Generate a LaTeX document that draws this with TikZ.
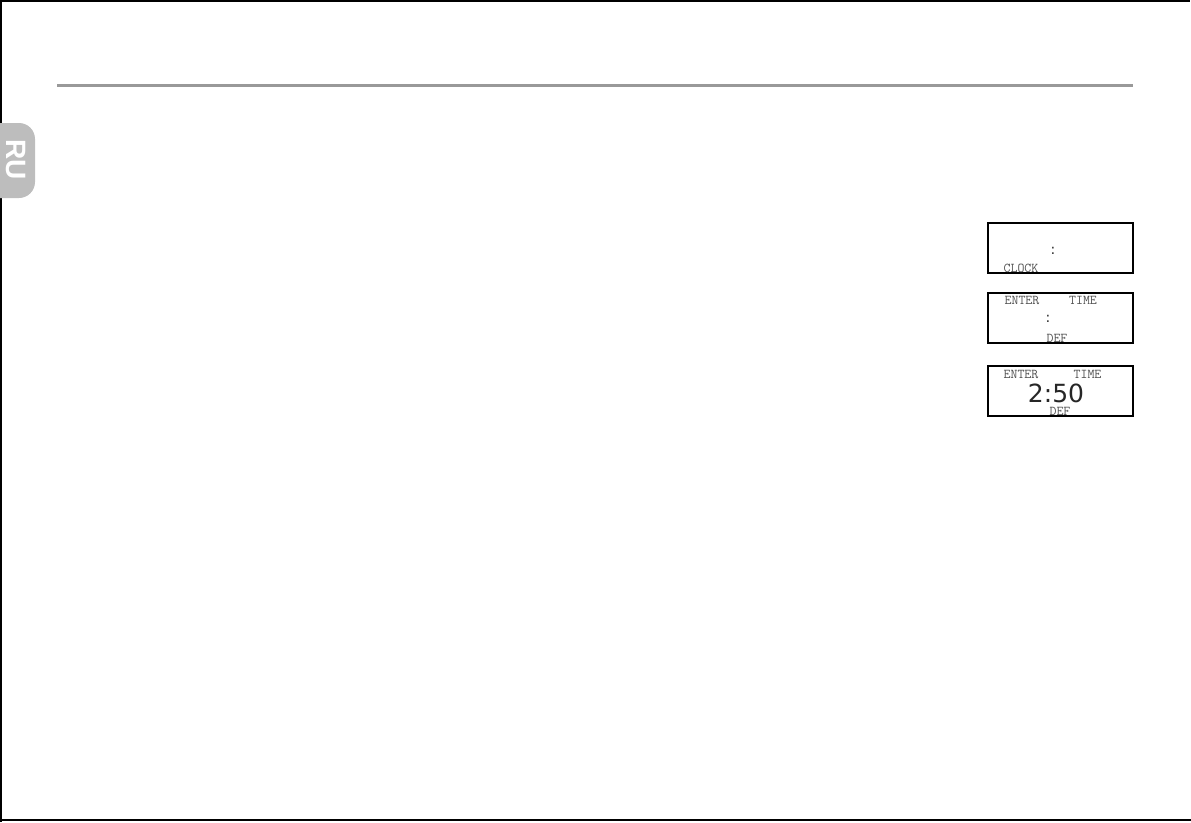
\documentclass[tikz,border=0pt]{standalone}
\usepackage{fontspec}
\setmainfont{Liberation Sans}
\newfontfamily\lcdbig{DejaVu Sans}
\definecolor{rulegray}{HTML}{999999}
\definecolor{tabgray}{HTML}{BDBDBD}
\definecolor{lcdtext}{HTML}{505050}
\begin{document}
\begin{tikzpicture}[x=1pt,y=-1pt,
  lcdbox/.style={draw=black,line width=1.5pt,minimum width=145pt,minimum height=50pt,inner sep=0pt},
  lcdlabel/.style={inner sep=0pt,text=lcdtext,font=\ttfamily\fontsize{13.5}{13.5}\selectfont},
  lcdcolon/.style={inner sep=0pt,text=black!85,font=\lcdbig\fontsize{14}{14}\selectfont},
  lcdbigtext/.style={inner sep=0pt,text=black!85,font=\lcdbig\fontsize{25}{25}\selectfont}]
\useasboundingbox (0,0) rectangle (1191,822);
% page frame
\draw[line width=1.6pt] (0.8,822) -- (0.8,1) -- (1190,1);
\draw[line width=1.6pt] (0,820.2) -- (1191,820.2);
% header rule
\draw[rulegray,line width=3pt] (57,85) -- (1133,85);
% RU tab
\fill[tabgray,rounded corners=16pt] (-30,123) rectangle (35,198);
\node[inner sep=0pt,text=white,rotate=-90,font=\bfseries\fontsize{28}{28}\selectfont] (ru) at (15.5,160) {RU};
% display 1
\node[lcdbox,line width=2.2pt] (d1) at (1060.5,248) {};
\node[lcdcolon] (d1c) at (1053,250.5) {:};
\node[lcdlabel] (d1l) at (1021,268) {CLOCK};
% display 2
\node[lcdbox] (d2) at (1060.5,318) {};
\node[lcdlabel] (d2a) at (1022,300.5) {ENTER};
\node[lcdlabel] (d2b) at (1083,300.5) {TIME};
\node[lcdcolon] (d2c) at (1048,318.5) {:};
\node[lcdlabel] (d2d) at (1057,338) {DEF};
% display 3
\node[lcdbox] (d3) at (1060.5,391) {};
\node[lcdlabel] (d3a) at (1021,374.5) {ENTER};
\node[lcdlabel] (d3b) at (1087.5,374.5) {TIME};
\node[lcdbigtext] (d3t) at (1056,393) {2:50};
\node[lcdlabel] (d3d) at (1060,411.5) {DEF};
\end{tikzpicture}
\end{document}
